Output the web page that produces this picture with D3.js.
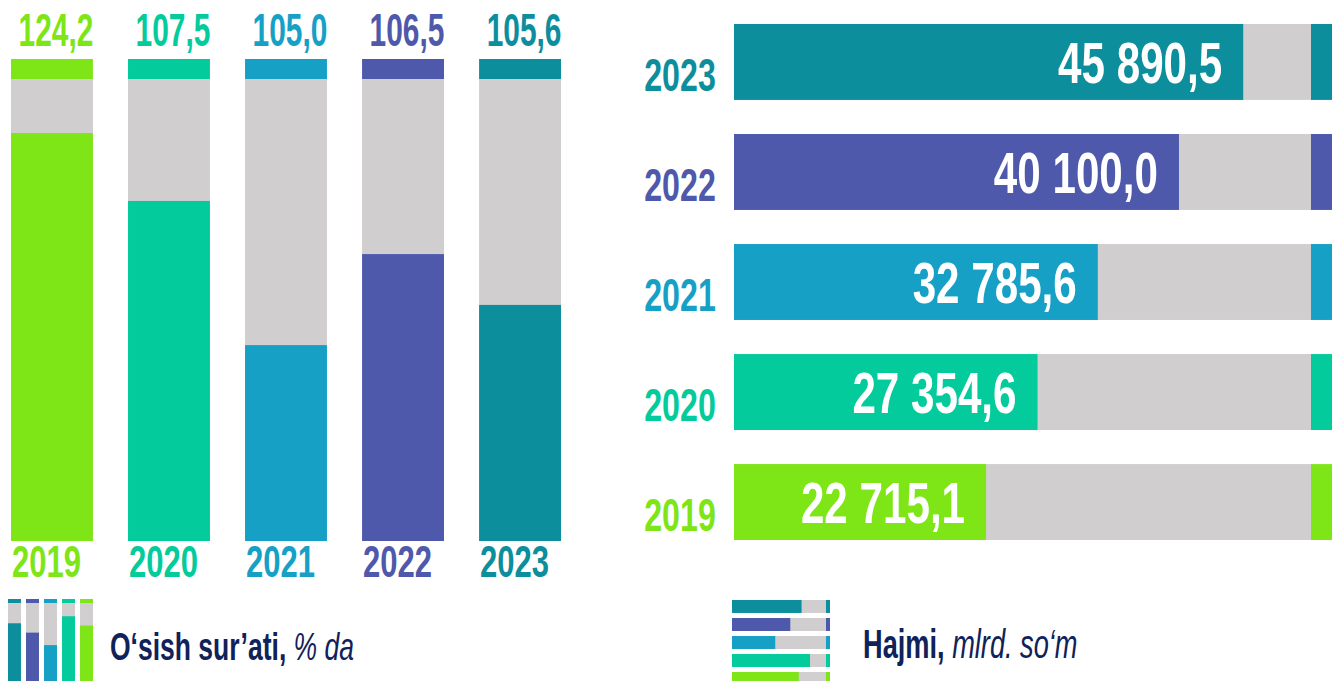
<!DOCTYPE html>
<html>
<head>
<meta charset="utf-8">
<script src="https://cdn.jsdelivr.net/npm/d3@7"></script>
<style>
  html, body { margin: 0; padding: 0; background: #ffffff; }
  svg { display: block; }
  text { font-family: "Liberation Sans", Arial, sans-serif; }
</style>
</head>
<body>
<svg id="chart" width="1332" height="681"></svg>
<script>
// ---- data ----
const years = ["2019", "2020", "2021", "2022", "2023"];
const growthRate = [124.2, 107.5, 105.0, 106.5, 105.6];          // O'sish sur'ati, % da
const growthFillShare = [0.883, 0.736, 0.424, 0.621, 0.511];     // visual fill share of each column
const volume = [22715.1, 27354.6, 32785.6, 40100.0, 45890.5];    // Hajmi, mlrd. so'm
const volumeLabels = ["22 715,1", "27 354,6", "32 785,6", "40 100,0", "45 890,5"];
const growthLabels = ["124,2", "107,5", "105,0", "106,5", "105,6"];
const iconShare = [0.74, 0.62, 0.46, 0.83, 0.71];                 // legend icon fills (2023 → 2019)
const iconYears = ["2023", "2022", "2021", "2020", "2019"];
const yearColors = ["#7ee517", "#03cb9b", "#16a0c5", "#4e59ab", "#0d8e9c"];
const gray = "#d0cecf";
const navy = "#0f2259";

const svg = d3.select("#chart");
const color = d3.scaleOrdinal().domain(years).range(yearColors);

function condensed(sel, x, y, sx) {
  return sel.attr("transform", `translate(${x},${y}) scale(${sx},1)`);
}

// ---- left: growth rate columns ----
const xL = d3.scaleBand().domain(years).range([11, 561]).paddingInner(0.3).paddingOuter(0);
const yL = d3.scaleLinear().domain([0, 1]).range([541, 79]);
const capH = 20;

const left = svg.append("g");
const cols = left.selectAll("g.col").data(years).join("g").attr("class", "col");

cols.append("rect")
  .attr("x", d => xL(d)).attr("width", xL.bandwidth())
  .attr("y", yL(1)).attr("height", yL(0) - yL(1))
  .attr("fill", gray);
cols.append("rect")
  .attr("x", d => xL(d)).attr("width", xL.bandwidth())
  .attr("y", yL(1) - capH).attr("height", capH)
  .attr("fill", d => color(d));
cols.append("rect")
  .attr("x", d => xL(d)).attr("width", xL.bandwidth())
  .attr("y", (d, i) => yL(growthFillShare[i]))
  .attr("height", (d, i) => yL(0) - yL(growthFillShare[i]))
  .attr("fill", d => color(d));

cols.append("text")
  .each(function (d, i) { condensed(d3.select(this), xL(d) + xL.bandwidth() / 2 + 4, 46, 0.65); })
  .attr("text-anchor", "middle")
  .attr("font-size", 46).attr("font-weight", "bold")
  .attr("fill", d => color(d))
  .text((d, i) => growthLabels[i]);

cols.append("text")
  .each(function (d) { condensed(d3.select(this), xL(d) + 1, 577, 0.69); })
  .attr("text-anchor", "start")
  .attr("font-size", 45).attr("font-weight", "bold")
  .attr("fill", d => color(d))
  .text(d => d);

// ---- right: volume bars ----
const yR = d3.scaleBand().domain(years.slice().reverse()).range([24, 540]).paddingInner(0.31).paddingOuter(0);
const xR = d3.scaleLinear().domain([0, 52000]).range([734, 1311]);
const capW = 21;

const right = svg.append("g");
const rows = right.selectAll("g.row").data(years).join("g").attr("class", "row");

rows.append("rect")
  .attr("x", xR(0)).attr("width", xR(52000) - xR(0))
  .attr("y", d => yR(d)).attr("height", yR.bandwidth())
  .attr("fill", gray);
rows.append("rect")
  .attr("x", xR(52000)).attr("width", capW)
  .attr("y", d => yR(d)).attr("height", yR.bandwidth())
  .attr("fill", d => color(d));
rows.append("rect")
  .attr("x", xR(0)).attr("width", (d, i) => xR(volume[i]) - xR(0))
  .attr("y", d => yR(d)).attr("height", yR.bandwidth())
  .attr("fill", d => color(d));

rows.append("text")
  .each(function (d, i) { condensed(d3.select(this), xR(volume[i]) - 21, yR(d) + 59, 0.74); })
  .attr("text-anchor", "end")
  .attr("font-size", 57).attr("font-weight", "bold")
  .attr("fill", "#ffffff")
  .text((d, i) => volumeLabels[i]);

rows.append("text")
  .each(function (d) { condensed(d3.select(this), 680, yR(d) + 67, 0.7); })
  .attr("text-anchor", "middle")
  .attr("font-size", 46).attr("font-weight", "bold")
  .attr("fill", d => color(d))
  .text(d => d);

// ---- left legend icon ----
const xI = d3.scaleBand().domain(iconYears).range([8, 93]).paddingInner(0.28).paddingOuter(0);
const yI = d3.scaleLinear().domain([0, 1]).range([681, 603]);
const iconL = svg.append("g");
const ic = iconL.selectAll("g").data(iconYears).join("g");
ic.append("rect").attr("x", d => xI(d)).attr("width", xI.bandwidth())
  .attr("y", yI(1)).attr("height", yI(0) - yI(1)).attr("fill", gray);
ic.append("rect").attr("x", d => xI(d)).attr("width", xI.bandwidth())
  .attr("y", yI(1) - 4).attr("height", 4).attr("fill", d => color(d));
ic.append("rect").attr("x", d => xI(d)).attr("width", xI.bandwidth())
  .attr("y", (d, i) => yI(iconShare[i])).attr("height", (d, i) => yI(0) - yI(iconShare[i]))
  .attr("fill", d => color(d));

const lt = svg.append("text").attr("font-size", 39).attr("fill", navy);
condensed(lt, 110, 660, 0.68);
lt.append("tspan").attr("font-weight", "bold").text("O‘sish sur’ati, ");
lt.append("tspan").attr("font-style", "italic").text("% da");

// ---- right legend icon ----
const yI2 = d3.scaleBand().domain(iconYears).range([600, 685]).paddingInner(0.28).paddingOuter(0);
const xI2 = d3.scaleLinear().domain([0, 1]).range([732, 826]);
const iconR = svg.append("g");
const ir = iconR.selectAll("g").data(iconYears).join("g");
ir.append("rect").attr("y", d => yI2(d)).attr("height", yI2.bandwidth())
  .attr("x", xI2(0)).attr("width", xI2(1) - xI2(0)).attr("fill", gray);
ir.append("rect").attr("y", d => yI2(d)).attr("height", yI2.bandwidth())
  .attr("x", xI2(1)).attr("width", 4).attr("fill", d => color(d));
ir.append("rect").attr("y", d => yI2(d)).attr("height", yI2.bandwidth())
  .attr("x", xI2(0)).attr("width", (d, i) => xI2(iconShare[i]) - xI2(0))
  .attr("fill", d => color(d));

const rt = svg.append("text").attr("font-size", 40).attr("fill", navy);
condensed(rt, 863, 658, 0.68);
rt.append("tspan").attr("font-weight", "bold").text("Hajmi, ");
rt.append("tspan").attr("font-style", "italic").text("mlrd. so‘m");
</script>
</body>
</html>
